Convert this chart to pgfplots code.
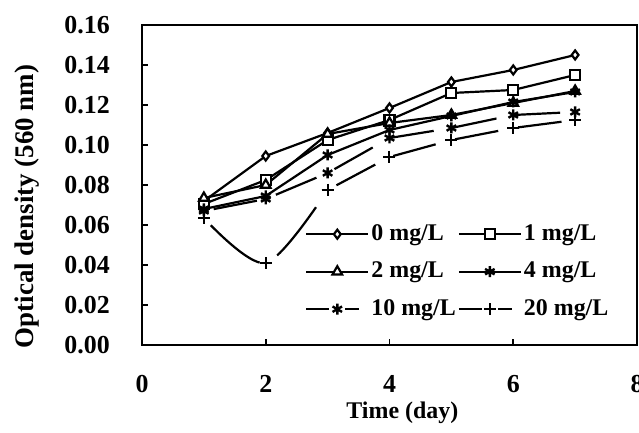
\documentclass[border=0pt]{standalone}
\usepackage{fontspec}
\setmainfont{Liberation Serif}
\usepackage{pgfplots}
\pgfplotsset{compat=1.18}
\begin{document}
\begin{tikzpicture}
\begin{axis}[
  at={(0,0)}, anchor=south west,
  scale only axis, width=495bp, height=320bp,
  xmin=0, xmax=8, ymin=0, ymax=0.16,
  xtick={0,2,4,6,8},
  ytick={0,0.02,0.04,0.06,0.08,0.10,0.12,0.14,0.16},
  xtick pos=left, ytick pos=left, tick align=inside,
  major tick length=6bp,
  tick style={line width=1.6bp, black},
  axis line style={line width=2.2bp},
  /pgf/number format/assume math mode=true,
  yticklabel style={/pgf/number format/fixed, /pgf/number format/fixed zerofill, /pgf/number format/precision=2, anchor=east, inner sep=0pt, xshift=-32bp},
  xticklabel style={anchor=north, inner sep=0pt, yshift=-30bp},
  ticklabel style={font=\fontsize{26}{28}\selectfont\bfseries},
  xlabel={Time (day)}, ylabel={Optical density (560 nm)},
  xlabel style={at={(axis description cs:0.526,-0.231)}, anchor=base, font=\fontsize{24}{26}\selectfont\bfseries},
  ylabel style={at={(axis description cs:-0.2313,0.4328)}, anchor=center, font=\fontsize{27}{29}\selectfont\bfseries},
  legend columns=2, legend cell align=left,
  legend style={at={(rel axis cs:0.3293,0.3875)}, anchor=north west, draw=none, fill=none, inner sep=0pt,
    row sep=11.5bp, font=\fontsize{24}{26}\selectfont\bfseries,
    nodes={inner sep=2bp, text height=17bp, text depth=5bp}},
  legend image code/.code={\draw[mark repeat=2,mark phase=2] plot coordinates {(0bp,0bp) (31bp,0bp) (62bp,0bp)};},
  every axis plot/.append style={black, line width=2.2bp, mark options={solid, line width=1.5bp}},
]
% 20 mg/L, days 1-3 (smooth part)
\addplot[smooth, dash pattern=on 62bp off 20bp, dash phase=72bp, mark=+, mark size=6bp, mark options={solid, line width=2bp}, forget plot]
  coordinates {(1,0.0635) (2,0.041) (3,0.0775)};
\addplot[mark=diamond*, mark size=4.5bp, mark options={fill=white}]
  coordinates {(1,0.072) (2,0.0945) (3,0.106) (4,0.1185) (5,0.1315) (6,0.1375) (7,0.145)};
\addlegendentry{0 mg/L}
\addplot[mark=square*, mark size=5bp, mark options={fill=white}]
  coordinates {(1,0.0705) (2,0.0825) (3,0.1025) (4,0.1125) (5,0.126) (6,0.1275) (7,0.135)};
\addlegendentry{1 mg/L}
\addplot[mark=triangle*, mark size=5.5bp, mark options={fill=white}]
  coordinates {(1,0.0735) (2,0.080) (3,0.1055) (4,0.111) (5,0.115) (6,0.121) (7,0.127)};
\addlegendentry{2 mg/L}
\addplot[mark=asterisk, mark size=5.5bp, mark options={line width=2.4bp}]
  coordinates {(1,0.068) (2,0.0745) (3,0.095) (4,0.1075) (5,0.1145) (6,0.1215) (7,0.1265)};
\addlegendentry{4 mg/L}
\addplot[dash pattern=on 44bp off 20bp, dash phase=54bp, mark=asterisk, mark size=5.5bp, mark options={solid, line width=2.4bp},
  legend image post style={dash pattern=on 23bp off 16bp on 14bp off 20bp, dash phase=0bp}]
  coordinates {(1,0.067) (2,0.073) (3,0.086) (4,0.1035) (5,0.1085) (6,0.115) (7,0.1165)};
\addlegendentry{10 mg/L}
\addplot[dash pattern=on 44bp off 20bp, dash phase=54bp, mark=+, mark size=6bp, mark options={solid, line width=2bp},
  legend image post style={dash pattern=on 23bp off 16bp on 14bp off 20bp, dash phase=0bp}]
  coordinates {(3,0.0775) (4,0.094) (5,0.1025) (6,0.1085) (7,0.1125)};
\addlegendentry{20 mg/L}
\end{axis}
\pgfresetboundingbox
\useasboundingbox (-142bp,-88bp) rectangle (497bp,345bp);
\end{tikzpicture}
\end{document}
